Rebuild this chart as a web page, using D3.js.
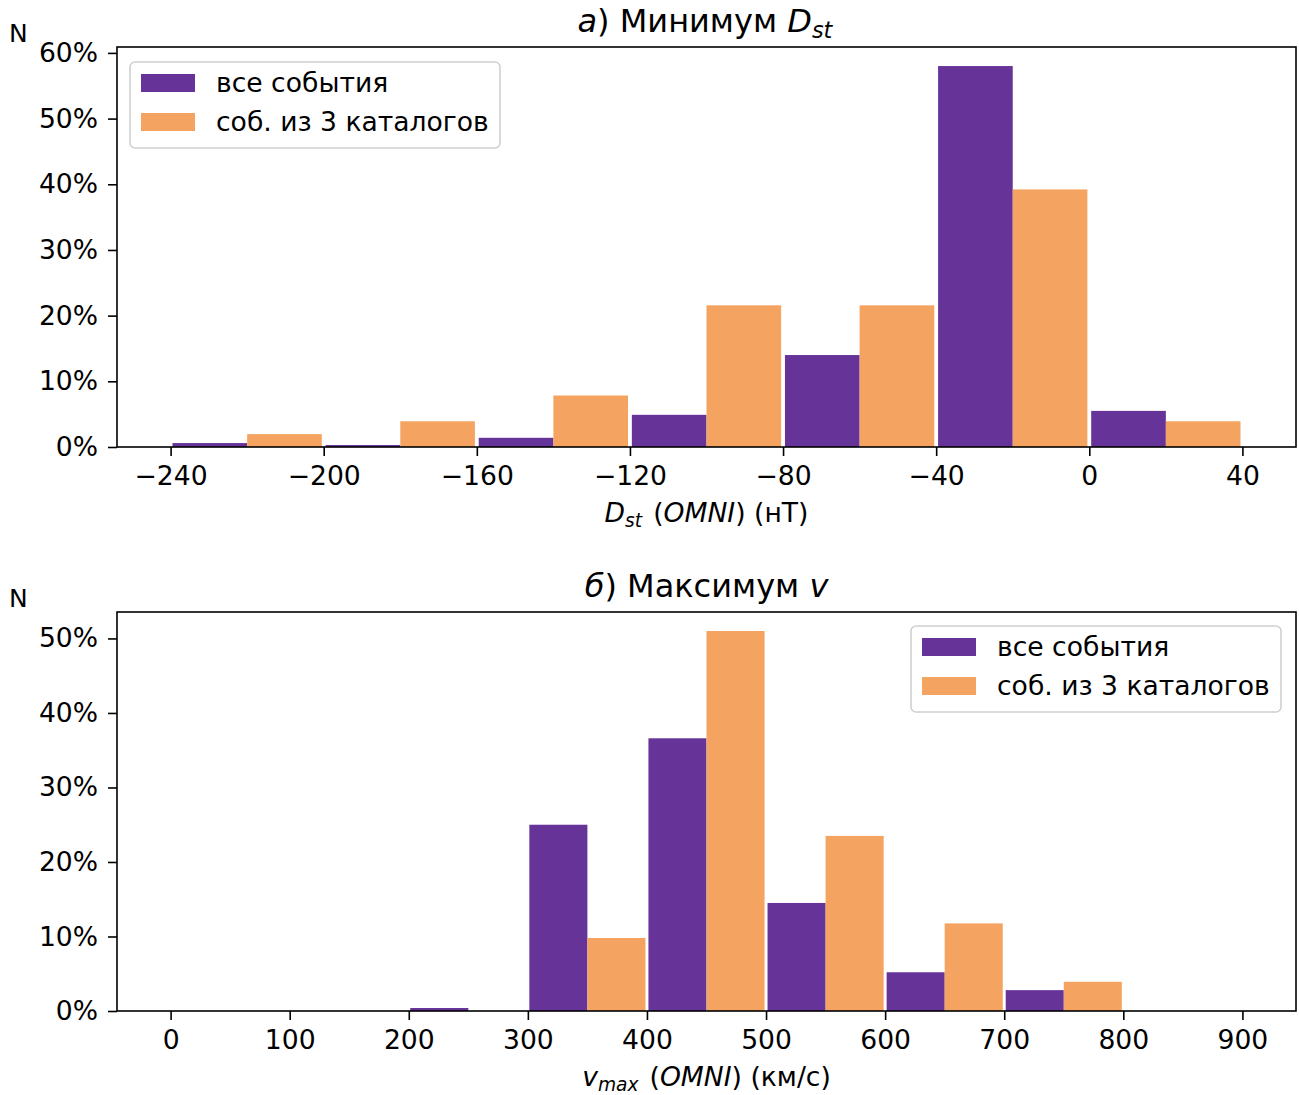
<!DOCTYPE html>
<html>
<head>
<meta charset="utf-8">
<script src="https://cdn.jsdelivr.net/npm/d3@7"></script>
<style>
  html, body { margin: 0; padding: 0; background: #fff; }
  svg { display: block; font-family: 'DejaVu Sans', sans-serif; }
</style>
</head>
<body>
<div id="chart"></div>
<script>
// -- data (percent of events per bin) --
const seriesNames = ['все события', 'соб. из 3 каталогов'];
const seriesColors = ['#663399', '#f4a460'];

const dstEdges = [-240, -200, -160, -120, -80, -40, 0, 40];
const dstAll = [0.6, 0.3, 1.4, 4.9, 14.0, 58.0, 5.5];
const dstCat = [1.96, 3.92, 7.84, 21.57, 21.57, 39.22, 3.92];
const dstTicks = [-240, -200, -160, -120, -80, -40, 0, 40];
const dstYTicks = [0, 10, 20, 30, 40, 50, 60];

const vEdges = [0, 100, 200, 300, 400, 500, 600, 700, 800, 900];
const vAll = [0, 0, 0.4, 25.0, 36.6, 14.5, 5.2, 2.8, 0];
const vCat = [0, 0, 0, 9.8, 51.0, 23.5, 11.76, 3.92, 0];
const vTicks = [0, 100, 200, 300, 400, 500, 600, 700, 800, 900];
const vYTicks = [0, 10, 20, 30, 40, 50];

const W = 1299, H = 1095;
const FS = 26.6;      // ticks, labels, legend
const FS_TITLE = 32;  // titles
const svg = d3.select('#chart').append('svg')
  .attr('width', W).attr('height', H)
  .attr('viewBox', [0, 0, W, H]);

const fmtMinus = v => (v < 0 ? '\u2212' + Math.abs(v) : String(v));

function panel(opt) {
  const { left, right, top, bottom, edges, series, xTicks, yTicks, legendX, legendY } = opt;
  const lo = edges[0], hi = edges[edges.length - 1];
  const pad = (hi - lo) * 0.05;
  const x = d3.scaleLinear().domain([lo - pad, hi + pad]).range([left, right]);
  const yMax = d3.max(series.flat()) * 1.05;
  const y = d3.scaleLinear().domain([0, yMax]).range([bottom, top]);

  const g = svg.append('g');

  // bars: each bin split between the two series (side-by-side hist)
  const rw = 0.975;
  const nser = series.length;
  series.forEach((vals, si) => {
    const bins = vals.map((v, i) => ({ x0: edges[i], x1: edges[i + 1], v }));
    g.append('g').selectAll('rect')
      .data(bins.filter(b => b.v > 0))
      .enter().append('rect')
      .attr('x', b => {
        const bw = (b.x1 - b.x0) * rw;
        return x(b.x0 + (b.x1 - b.x0) * (1 - rw) / 2 + si * bw / nser);
      })
      .attr('width', b => x(b.x0 + (b.x1 - b.x0) * rw / nser) - x(b.x0))
      .attr('y', b => y(b.v))
      .attr('height', b => y(0) - y(b.v))
      .attr('fill', seriesColors[si]);
  });

  // axes
  const xAxis = d3.axisBottom(x).tickValues(xTicks).tickFormat(fmtMinus).tickSizeOuter(0).tickSize(9).tickPadding(9);
  const yAxis = d3.axisLeft(y).tickValues(yTicks).tickFormat(d => d + '%').tickSizeOuter(0).tickSize(9).tickPadding(10);

  const gx = g.append('g').attr('transform', `translate(0,${bottom})`).call(xAxis);
  const gy = g.append('g').attr('transform', `translate(${left},0)`).call(yAxis);
  [gx, gy].forEach(a => {
    a.select('.domain').remove();
    a.selectAll('line').attr('stroke', '#000').attr('stroke-width', 1.6);
    a.selectAll('text').attr('font-size', FS).attr('font-family', 'DejaVu Sans').attr('fill', '#000');
  });
  gx.selectAll('text').attr('dy', '0.74em');

  // frame
  g.append('rect')
    .attr('x', left).attr('y', top)
    .attr('width', right - left).attr('height', bottom - top)
    .attr('fill', 'none').attr('stroke', '#000').attr('stroke-width', 1.6);

  // title
  const cx = (left + right) / 2;
  const t = g.append('text').attr('x', cx).attr('y', top - 15)
    .attr('text-anchor', 'middle').attr('font-size', FS_TITLE);
  opt.title(t, FS_TITLE);

  // x label
  const xl = g.append('text').attr('x', cx).attr('y', bottom + 75)
    .attr('text-anchor', 'middle').attr('font-size', FS);
  opt.xlabel(xl, FS);

  // "N"
  g.append('text').attr('x', 9).attr('y', top - 5)
    .attr('font-size', 25).text('N');

  // legend
  const lg = g.append('g').attr('transform', `translate(${legendX},${legendY})`);
  lg.append('rect')
    .attr('width', 370).attr('height', 86).attr('rx', 5)
    .attr('fill', 'rgba(255,255,255,0.8)').attr('stroke', '#d0d0d0').attr('stroke-width', 1.6);
  seriesNames.forEach((name, i) => {
    lg.append('rect').attr('x', 11).attr('y', 12 + i * 39).attr('width', 54).attr('height', 18)
      .attr('fill', seriesColors[i]);
    lg.append('text').attr('x', 86).attr('y', 30 + i * 39)
      .attr('font-size', FS).text(name);
  });
}

function sub(t, main, s, fs) {
  t.append('tspan').attr('font-style', 'italic').text(main);
  t.append('tspan').attr('font-style', 'italic').attr('font-size', fs * 0.7).attr('dy', fs * 0.18).text(s);
  t.append('tspan').attr('dy', -fs * 0.18).text('\u200a');
}

panel({
  left: 117, right: 1296, top: 47, bottom: 447,
  edges: dstEdges, series: [dstAll, dstCat], xTicks: dstTicks, yTicks: dstYTicks,
  legendX: 130, legendY: 62,
  title: (t, fs) => {
    t.append('tspan').attr('font-style', 'italic').text('а');
    t.append('tspan').text(') Минимум ');
    sub(t, 'D', 'st', fs);
  },
  xlabel: (t, fs) => {
    sub(t, 'D', 'st', fs);
    t.append('tspan').text(' (');
    t.append('tspan').attr('font-style', 'italic').text('OMNI');
    t.append('tspan').text(') (нТ)');
  }
});

panel({
  left: 117, right: 1296, top: 612, bottom: 1011,
  edges: vEdges, series: [vAll, vCat], xTicks: vTicks, yTicks: vYTicks,
  legendX: 911, legendY: 626,
  title: (t, fs) => {
    t.append('tspan').attr('font-style', 'italic').text('б');
    t.append('tspan').text(') Максимум ');
    t.append('tspan').attr('font-style', 'italic').text('v');
  },
  xlabel: (t, fs) => {
    sub(t, 'v', 'max', fs);
    t.append('tspan').text(' (');
    t.append('tspan').attr('font-style', 'italic').text('OMNI');
    t.append('tspan').text(') (км/с)');
  }
});
</script>
</body>
</html>
